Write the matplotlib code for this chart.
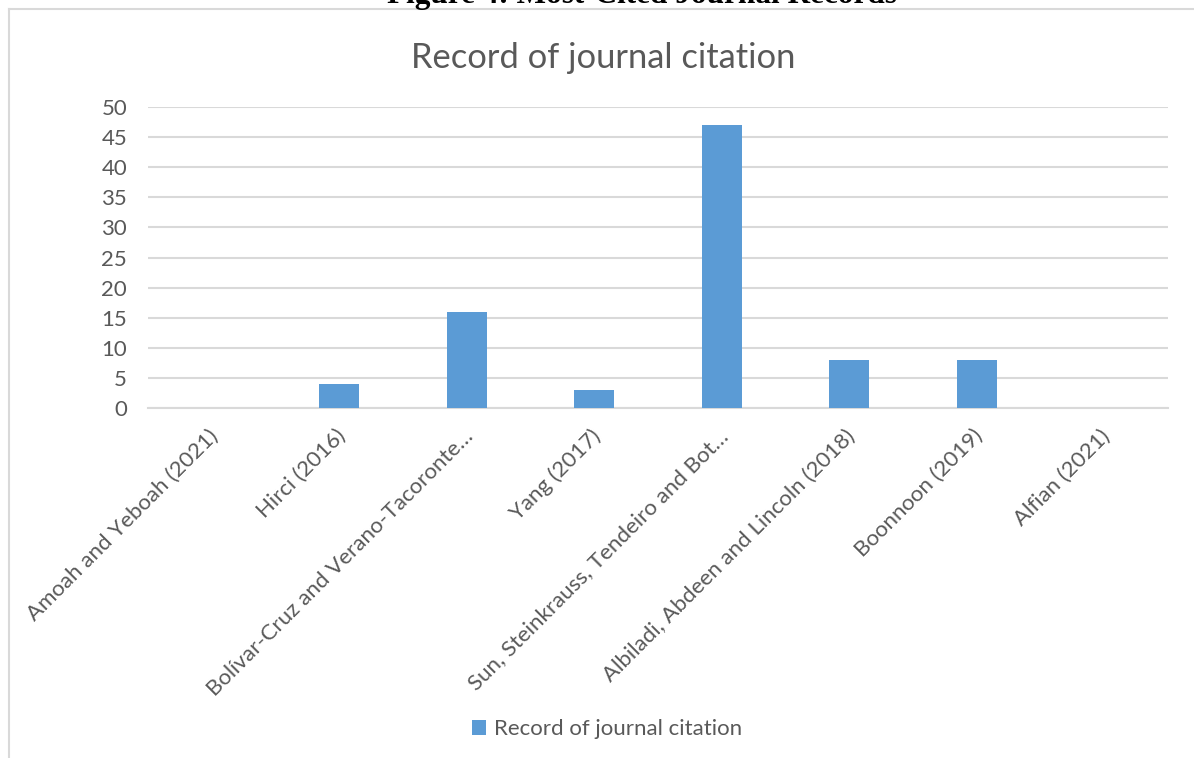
import numpy as np
import matplotlib
matplotlib.use("Agg")
from matplotlib import pyplot as plt
from matplotlib.lines import Line2D
from matplotlib.transforms import ScaledTranslation

# journal citation counts
authors = [
    "Amoah and Yeboah (2021)",
    "Hirci (2016)",
    "Bolívar-Cruz and Verano-Tacoronte…",
    "Yang (2017)",
    "Sun, Steinkrauss, Tendeiro and Bot…",
    "Albiladi, Abdeen and Lincoln (2018)",
    "Boonnoon (2019)",
    "Alfian (2021)",
]
citations = [0, 4, 16, 3, 47, 8, 8, 0]
yticks = [0, 5, 10, 15, 20, 25, 30, 35, 40, 45, 50]

plt.rcParams['font.family'] = ['Lato', 'DejaVu Sans']
txt = '#595959'
grid = '#d9d9d9'
blue = '#5b9bd5'

W, H = 1194, 758
fig = plt.figure(figsize=(W / 100, H / 100), dpi=100)
ax = fig.add_axes([148 / W, 1 - 408 / H, (1168 - 148) / W, (408 - 107) / H])

x = np.arange(len(authors))
ax.bar(x, citations, width=0.31, color=blue, label='Record of journal citation', zorder=3)

ax.set_xlim(-0.5, len(authors) - 0.5)
ax.set_ylim(0, 50)
ax.set_yticks(yticks)
ax.yaxis.grid(True, color=grid, linewidth=1.5, zorder=0)
for s in ['top', 'right', 'left']:
    ax.spines[s].set_visible(False)
ax.spines['bottom'].set_color(grid)
ax.spines['bottom'].set_linewidth(1.5)
ax.tick_params(axis='both', length=0, colors=txt, labelsize=16)
ax.tick_params(axis='y', pad=15)
ax.set_xticks(x)
ax.set_xticklabels(authors, rotation=45, ha='right', va='center',
                   rotation_mode='anchor', color=txt)
ax.tick_params(axis='x', pad=18)
shift = ScaledTranslation(0.03, 0, fig.dpi_scale_trans)
for lab in ax.get_xticklabels():
    lab.set_transform(lab.get_transform() + shift)

fig.text(603 / W, 1 - 68 / H, 'Record of journal citation', ha='center', va='baseline',
         fontsize=24.8, color=txt)

leg = fig.legend(loc='center', bbox_to_anchor=(607 / W, 1 - 729 / H), frameon=False,
                 fontsize=16, handlelength=0.65, handleheight=0.65, handletextpad=0.35,
                 labelcolor=txt)

# chart frame and cropped caption above it
fig.add_artist(Line2D([9 / W, 9 / W], [0, 1 - 9 / H], color=grid, linewidth=1.5))
fig.add_artist(Line2D([9 / W, 1], [1 - 9 / H, 1 - 9 / H], color=grid, linewidth=1.5))
fig.text(642 / W, 1 - 3 / H, 'Figure 4: Most-Cited Journal Records', ha='center',
         va='baseline', fontsize=22.5, fontweight='bold', family='Liberation Serif')

fig.savefig('out.png', dpi=100)
